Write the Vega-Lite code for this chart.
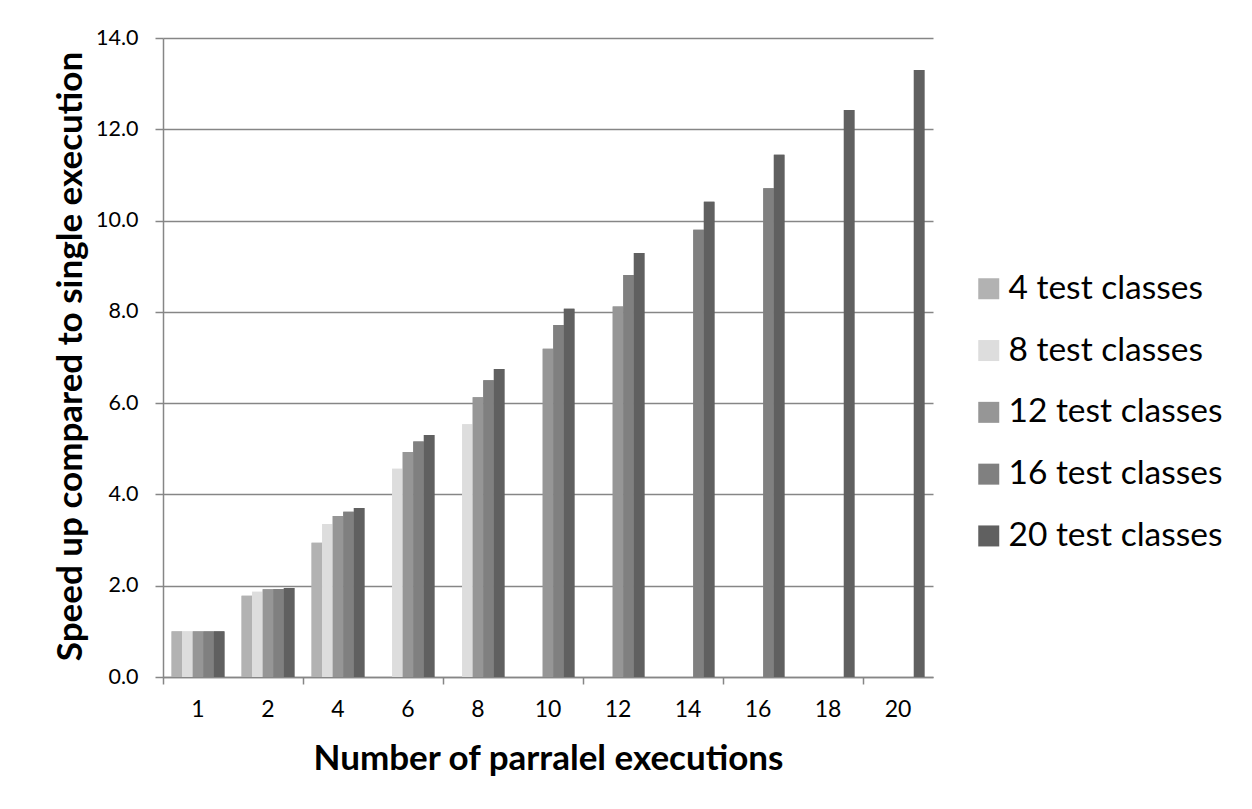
{
  "$schema": "https://vega.github.io/schema/vega-lite/v6.json",
  "width": 770,
  "height": 639,
  "autosize": {"type": "none"},
  "padding": {"left": 163, "top": 38, "right": 319, "bottom": 132},
  "background": "white",
  "config": {
    "view": {"stroke": null},
    "font": "Lato",
    "axis": {"labelFont": "Lato", "titleFont": "Lato"},
    "legend": {"labelFont": "Lato"}
  },
  "data": {
    "values": [
      {"n": 1, "s": "4 test classes", "v": 1.0},
      {"n": 1, "s": "8 test classes", "v": 1.0},
      {"n": 1, "s": "12 test classes", "v": 1.0},
      {"n": 1, "s": "16 test classes", "v": 1.0},
      {"n": 1, "s": "20 test classes", "v": 1.0},
      {"n": 2, "s": "4 test classes", "v": 1.78},
      {"n": 2, "s": "8 test classes", "v": 1.87},
      {"n": 2, "s": "12 test classes", "v": 1.92},
      {"n": 2, "s": "16 test classes", "v": 1.93},
      {"n": 2, "s": "20 test classes", "v": 1.95},
      {"n": 4, "s": "4 test classes", "v": 2.94},
      {"n": 4, "s": "8 test classes", "v": 3.35},
      {"n": 4, "s": "12 test classes", "v": 3.53},
      {"n": 4, "s": "16 test classes", "v": 3.62},
      {"n": 4, "s": "20 test classes", "v": 3.70},
      {"n": 6, "s": "8 test classes", "v": 4.56},
      {"n": 6, "s": "12 test classes", "v": 4.93},
      {"n": 6, "s": "16 test classes", "v": 5.16},
      {"n": 6, "s": "20 test classes", "v": 5.30},
      {"n": 8, "s": "8 test classes", "v": 5.54},
      {"n": 8, "s": "12 test classes", "v": 6.13},
      {"n": 8, "s": "16 test classes", "v": 6.50},
      {"n": 8, "s": "20 test classes", "v": 6.75},
      {"n": 10, "s": "12 test classes", "v": 7.19},
      {"n": 10, "s": "16 test classes", "v": 7.71},
      {"n": 10, "s": "20 test classes", "v": 8.07},
      {"n": 12, "s": "12 test classes", "v": 8.12},
      {"n": 12, "s": "16 test classes", "v": 8.81},
      {"n": 12, "s": "20 test classes", "v": 9.29},
      {"n": 14, "s": "16 test classes", "v": 9.80},
      {"n": 14, "s": "20 test classes", "v": 10.41},
      {"n": 16, "s": "16 test classes", "v": 10.71},
      {"n": 16, "s": "20 test classes", "v": 11.44},
      {"n": 18, "s": "20 test classes", "v": 12.42},
      {"n": 20, "s": "20 test classes", "v": 13.30}
    ]
  },
  "encoding": {
    "xOffset": {
      "field": "s",
      "type": "nominal",
      "sort": ["4 test classes", "8 test classes", "12 test classes", "16 test classes", "20 test classes"],
      "scale": {"paddingInner": 0, "paddingOuter": 0}
    },
    "y": {
      "field": "v",
      "type": "quantitative",
      "scale": {"domain": [0, 14], "nice": false},
      "axis": {
        "title": "Speed up compared to single execution",
        "titleFontSize": 35,
        "titleFontWeight": "bold",
        "titleColor": "black",
        "titleBaseline": "middle",
        "titleX": -93,
        "titleY": 318,
        "values": [0, 2, 4, 6, 8, 10, 12, 14],
        "format": ".1f",
        "labelFontSize": 21.5,
        "labelColor": "black",
        "labelPadding": 17,
        "tickSize": 8,
        "tickWidth": 1.5,
        "tickColor": "#868686",
        "domainColor": "#868686",
        "domainWidth": 1.5,
        "grid": true,
        "gridColor": "#868686",
        "gridWidth": 1.5
      }
    },
    "color": {
      "field": "s",
      "type": "nominal",
      "sort": ["4 test classes", "8 test classes", "12 test classes", "16 test classes", "20 test classes"],
      "scale": {
        "domain": ["4 test classes", "8 test classes", "12 test classes", "16 test classes", "20 test classes"],
        "range": ["#b2b2b2", "#dddddd", "#969696", "#808080", "#606060"]
      },
      "legend": {
        "title": null,
        "orient": "none",
        "legendX": 809,
        "legendY": 234,
        "symbolType": "square",
        "symbolSize": 441,
        "symbolStrokeWidth": 0,
        "labelFontSize": 33.5,
        "labelColor": "black",
        "labelOffset": 3,
        "rowPadding": 26.8,
        "labelLimit": 400
      }
    }
  },
  "layer": [
    {
      "mark": {"type": "bar"},
      "encoding": {
        "x": {
          "field": "n",
          "type": "ordinal",
          "scale": {"paddingInner": 0.245, "paddingOuter": 0.1225},
          "axis": {
            "orient": "bottom",
            "title": "Number of parralel executions",
            "titleFontSize": 35,
            "titleFontWeight": "bold",
            "titleColor": "black",
            "titleBaseline": "middle",
            "titleY": 81,
            "labelAngle": 0,
            "labelFontSize": 23,
            "labelColor": "black",
            "labelPadding": 21,
            "ticks": false,
            "domainColor": "#868686",
            "domainWidth": 1.5,
            "grid": false
          }
        }
      }
    },
    {
      "mark": {"type": "bar"},
      "encoding": {
        "x": {
          "field": "n",
          "type": "ordinal",
          "scale": {"paddingInner": 0.245, "paddingOuter": 0.1225},
          "axis": {
            "orient": "bottom",
            "title": null,
            "values": [1, 4, 8, 12, 16, 20],
            "labels": false,
            "domain": false,
            "ticks": true,
            "tickOffset": -35,
            "tickSize": 7,
            "tickWidth": 1.5,
            "tickColor": "#868686",
            "grid": false
          }
        }
      }
    }
  ],
  "resolve": {"axis": {"x": "independent"}}
}
